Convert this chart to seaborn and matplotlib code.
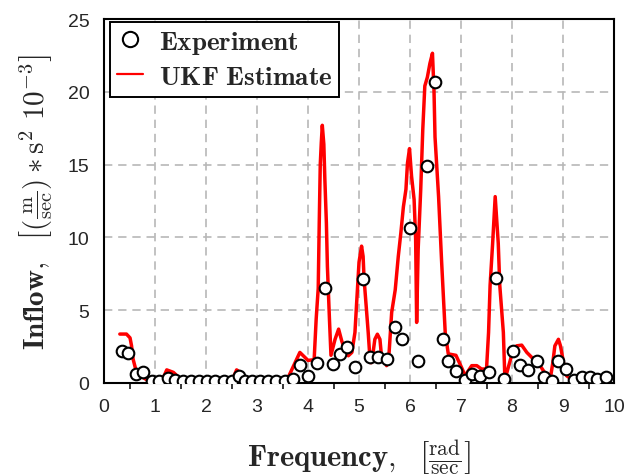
import matplotlib
matplotlib.use("Agg")
import matplotlib.pyplot as plt
from matplotlib.lines import Line2D
from matplotlib.ticker import MultipleLocator
import seaborn as sns
import pandas as pd

# Measured inflow spectrum (circles)
exp_freq = [0.35, 0.47, 0.62, 0.77, 0.94, 1.08, 1.25, 1.39, 1.54, 1.70,
            1.86, 2.01, 2.18, 2.35, 2.50, 2.65, 2.76, 2.91, 3.06, 3.22,
            3.37, 3.54, 3.70, 3.84, 4.00, 4.17, 4.33, 4.48, 4.63, 4.76,
            4.92, 5.07, 5.22, 5.38, 5.54, 5.71, 5.85, 6.00, 6.16, 6.33,
            6.48, 6.64, 6.75, 6.90, 7.07, 7.21, 7.37, 7.54, 7.69, 7.84,
            8.01, 8.16, 8.32, 8.48, 8.63, 8.79, 8.91, 9.06, 9.22, 9.38,
            9.52, 9.67, 9.84]
exp_inflow = [2.20, 2.05, 0.60, 0.75, 0.15, 0.15, 0.32, 0.18, 0.12, 0.12,
              0.12, 0.12, 0.12, 0.12, 0.12, 0.50, 0.12, 0.12, 0.12, 0.12,
              0.12, 0.12, 0.25, 1.25, 0.46, 1.37, 6.55, 1.30, 2.00, 2.50,
              1.12, 7.17, 1.80, 1.80, 1.64, 3.86, 3.00, 10.66, 1.48, 14.93,
              20.70, 3.00, 1.48, 0.85, 0.20, 0.60, 0.46, 0.73, 7.24, 0.27,
              2.17, 1.25, 0.91, 1.48, 0.43, 0.16, 1.48, 0.96, 0.20, 0.43,
              0.38, 0.27, 0.43]

# UKF estimate of the same spectrum (red curve)
ukf_freq = [0.31, 0.44, 0.51, 0.54, 0.57, 0.62, 0.71, 0.87, 1.10, 1.18,
            1.23, 1.36, 1.46, 1.55, 2.45, 2.55, 2.60, 2.67, 2.76, 3.58,
            3.84, 4.00, 4.12, 4.16, 4.20, 4.22, 4.24, 4.26, 4.28, 4.31,
            4.33, 4.36, 4.38, 4.42, 4.45, 4.53, 4.60, 4.66, 4.73, 4.79,
            4.86, 4.92, 4.95, 5.00, 5.05, 5.08, 5.10, 5.14, 5.18, 5.22,
            5.25, 5.31, 5.36, 5.41, 5.44, 5.49, 5.54, 5.59, 5.64, 5.71,
            5.77, 5.82, 5.87, 5.92, 5.95, 5.99, 6.03, 6.08, 6.11, 6.13,
            6.16, 6.21, 6.25, 6.29, 6.34, 6.39, 6.44, 6.47, 6.49, 6.56,
            6.62, 6.69, 6.75, 6.90, 7.01, 7.08, 7.21, 7.31, 7.40, 7.50,
            7.54, 7.57, 7.62, 7.67, 7.73, 7.76, 7.83, 7.86, 7.90, 7.99,
            8.09, 8.19, 8.29, 8.42, 8.55, 8.68, 8.75, 8.80, 8.84, 8.91,
            8.95, 9.01, 9.07, 9.20, 9.30, 9.34, 9.38, 9.90]
ukf_inflow = [3.36, 3.36, 3.10, 2.55, 1.64, 0.96, 0.50, 0.15, 0.10, 0.50,
              0.90, 0.73, 0.40, 0.10, 0.10, 0.50, 0.90, 0.73, 0.25, 0.15,
              2.10, 1.55, 1.60, 4.40, 6.50, 11.0, 15.0, 16.5, 17.7, 16.4,
              14.0, 11.0, 8.00, 4.40, 1.90, 3.00, 3.70, 2.90, 2.20, 1.87,
              2.10, 3.47, 5.30, 8.30, 9.40, 8.70, 7.10, 5.30, 3.47, 1.40,
              1.40, 3.00, 3.35, 3.00, 1.87, 1.64, 1.19, 2.10, 4.84, 6.40,
              8.70, 10.3, 12.1, 13.3, 15.1, 16.1, 14.2, 12.6, 9.90, 4.16,
              9.20, 13.3, 17.4, 20.4, 21.0, 21.95, 22.65, 20.1, 16.9, 12.8,
              8.30, 3.47, 2.00, 1.90, 1.07, 0.50, 1.19, 1.19, 0.96, 0.96,
              3.47, 6.70, 9.60, 12.8, 9.60, 6.70, 3.47, 0.30, 0.73, 1.87,
              2.55, 2.60, 2.10, 1.64, 1.19, 0.50, 0.27, 1.40, 2.55, 3.00,
              2.55, 1.40, 0.50, 0.16, 0.16, 0.50, 0.16, 0.16]

x_ticks = [0, 1, 2, 3, 4, 5, 6, 7, 8, 9, 10]
y_ticks = [0, 5, 10, 15, 20, 25]

exp_df = pd.DataFrame({"freq": exp_freq, "inflow": exp_inflow})
ukf_df = pd.DataFrame({"freq": ukf_freq, "inflow": ukf_inflow})

sns.set_style("white")
plt.rcParams["font.family"] = ["Liberation Sans", "DejaVu Sans"]
plt.rcParams["mathtext.fontset"] = "cm"

fig = plt.figure(figsize=(6.27, 4.77), dpi=100)
ax = fig.add_axes([0.1659, 0.195, 0.8134, 0.763])

sns.lineplot(data=ukf_df, x="freq", y="inflow", ax=ax, color="#ff0000",
             linewidth=2.5, estimator=None, sort=False, zorder=2)
sns.scatterplot(data=exp_df, x="freq", y="inflow", ax=ax, s=70,
                facecolor="white", edgecolor="black", linewidth=1.5,
                zorder=3)

ax.set_xlim(0, 10)
ax.set_ylim(0, 25)
ax.set_xticks(x_ticks)
ax.set_yticks(y_ticks)
ax.xaxis.set_minor_locator(MultipleLocator(0.5))
ax.tick_params(axis="both", which="major", direction="inout", length=9,
               width=1.3, labelsize=14, color="black", pad=6,
               top=False, right=False)
ax.tick_params(axis="x", which="minor", direction="out", length=4,
               width=1.1, color="black", bottom=True)
ax.grid(True, which="major", color="#b8b8b8", linestyle=(0, (5, 3.5)),
        linewidth=1.2)

for side in ax.spines.values():
    side.set_visible(True)
    side.set_color("black")
    side.set_linewidth(1.5)

ax.set_xlabel(r"$\mathbf{Frequency,}\ \ \left[\frac{\mathrm{rad}}{\mathrm{sec}}\right]$",
              fontsize=22)
ax.set_ylabel(r"$\mathbf{Inflow,}\ \ \left[\left(\frac{\mathrm{m}}{\mathrm{sec}}\right)\ast\mathrm{s}^{2}\ 10^{-3}\right]$",
              fontsize=21)
ax.xaxis.set_label_coords(0.5, -0.15)
ax.yaxis.set_label_coords(-0.098, 0.5)

handles = [
    Line2D([], [], linestyle="none", marker="o", markersize=11,
           markerfacecolor="white", markeredgecolor="black",
           markeredgewidth=1.5),
    Line2D([], [], color="#ff0000", linewidth=1.6),
]
leg = ax.legend(handles, [r"$\mathbf{Experiment}$", r"$\mathbf{UKF\ Estimate}$"],
                loc="upper left", bbox_to_anchor=(0.012, 0.992),
                borderaxespad=0, fontsize=19.5, frameon=True, fancybox=False,
                edgecolor="black", framealpha=1, handlelength=0.95,
                handletextpad=0.6, borderpad=0.25, labelspacing=0.3)
leg.get_frame().set_linewidth(1.4)

fig.savefig("out.png", dpi=100)
